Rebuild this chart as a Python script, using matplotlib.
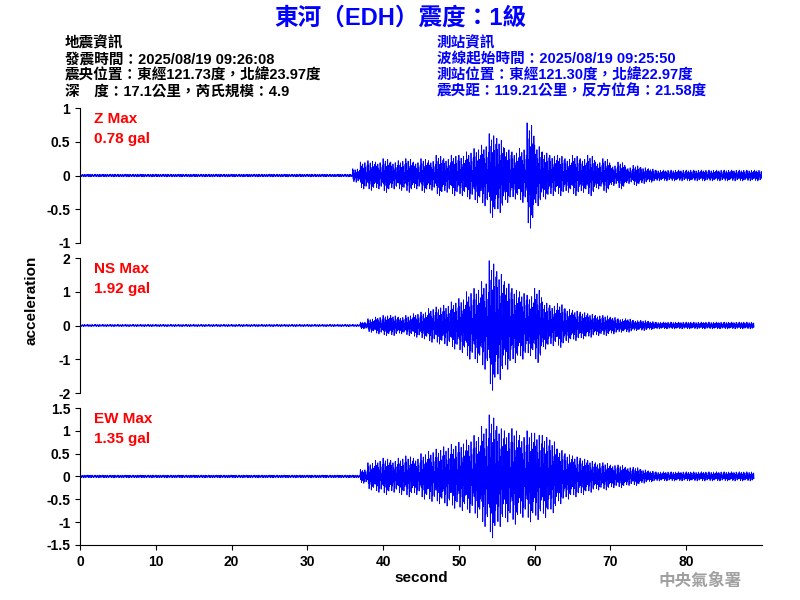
import numpy as np
import matplotlib
matplotlib.use('Agg')
import matplotlib.pyplot as plt

plt.rcParams['font.family'] = ['Liberation Sans', 'Noto Sans CJK TC', 'DejaVu Sans']
plt.rcParams['font.weight'] = 'bold'
plt.rcParams['axes.labelweight'] = 'bold'

BLUE = '#0000ff'
RED = '#ff0000'

# envelope amplitude (gal) per 1-second bin, 0..89 s
Z_ENV = [0.02]*36 + [0.1, 0.2, 0.22, 0.2, 0.25, 0.2, 0.22, 0.25, 0.2, 0.25, 0.22, 0.3, 0.25, 0.3,
         0.3, 0.35, 0.4, 0.45, 0.62, 0.55, 0.4, 0.35, 0.4, 0.78, 0.45, 0.35, 0.3, 0.3, 0.25, 0.3,
         0.25, 0.3, 0.2, 0.25, 0.15, 0.2, 0.12, 0.15, 0.12, 0.1] + [0.08]*14
NS_ENV = [0.03]*37 + [0.1, 0.2, 0.25, 0.3, 0.3, 0.25, 0.3, 0.35, 0.4, 0.5, 0.55, 0.6, 0.7,
          0.8, 1.0, 1.1, 1.3, 1.92, 1.6, 1.3, 1.1, 1.0, 0.9, 1.1, 0.7, 0.6, 0.65, 0.5, 0.45, 0.4,
          0.35, 0.3, 0.3, 0.25, 0.2, 0.2, 0.15, 0.15, 0.12] + [0.1]*13
EW_ENV = [0.03]*37 + [0.15, 0.3, 0.35, 0.4, 0.35, 0.4, 0.45, 0.4, 0.5, 0.55, 0.6, 0.65, 0.7,
          0.75, 0.8, 0.9, 1.1, 1.35, 1.1, 1.0, 1.05, 0.9, 1.0, 0.95, 0.9, 0.8, 0.6, 0.5, 0.45, 0.4,
          0.35, 0.3, 0.3, 0.25, 0.25, 0.2, 0.2, 0.15, 0.12] + [0.1]*13
# fixed oscillation shape within each second
SHAPE = [1.0, -0.5, 0.7, -0.9, 0.3, -0.6, 0.85, -0.35, 0.55, -1.0,
         0.4, -0.75, 0.95, -0.25, 0.6, -0.8, 0.2, -0.55, 0.75, -0.45]

PANELS = [('Z', Z_ENV, '0.78', (-1, 1), [-1, -0.5, 0, 0.5, 1], ['-1', '-0.5', '0', '0.5', '1']),
          ('NS', NS_ENV, '1.92', (-2, 2), [-2, -1, 0, 1, 2], ['-2', '-1', '0', '1', '2']),
          ('EW', EW_ENV, '1.35', (-1.5, 1.5), [-1.5, -1, -0.5, 0, 0.5, 1, 1.5],
           ['-1.5', '-1', '-0.5', '0', '0.5', '1', '1.5'])]

fig = plt.figure(figsize=(8, 6), dpi=100)
fig.patch.set_facecolor('white')

bottoms = [0.595, 0.345, 0.092]
heights = [0.225, 0.225, 0.228]
for i, (name, env, mx, ylim, yt, ytl) in enumerate(PANELS):
    ax = fig.add_axes([0.1, bottoms[i], 0.8525, heights[i]])
    n = len(SHAPE)
    t = np.concatenate([s + np.arange(n) / n for s in range(len(env))])
    y = np.concatenate([np.array(SHAPE) * a for a in env])
    ax.plot(t, y, color=BLUE, lw=0.6)
    ax.set_xlim(0, 90)
    ax.set_ylim(*ylim)
    ax.set_yticks(yt)
    ax.set_yticklabels(ytl, fontsize=10)
    for s in ['top', 'right']:
        ax.spines[s].set_visible(False)
    if i < 2:
        ax.spines['bottom'].set_visible(False)
        ax.set_xticks([])
    else:
        ax.set_xticks(range(0, 90, 10))
        ax.tick_params(axis='x', labelsize=10)
        ax.set_xlabel('second', fontsize=11, labelpad=2)
    ax.text(0.02, 0.97, f'{name} Max\n{mx} gal', transform=ax.transAxes,
            color=RED, fontsize=11, va='top', ha='left', linespacing=1.5)

fig.text(0.04, 0.5, 'acceleration', rotation=90, ha='center', va='center', fontsize=11)

fig.text(0.5, 0.97, '東河（EDH）震度：1級', color=BLUE, fontsize=17,
         ha='center', va='center')
left = ['地震資訊', '發震時間：2025/08/19 09:26:08', '震央位置：東經121.73度，北緯23.97度',
        '深　度：17.1公里，芮氏規模：4.9']
right = ['測站資訊', '波線起始時間：2025/08/19 09:25:50', '測站位置：東經121.30度，北緯22.97度',
         '震央距：119.21公里，反方位角：21.58度']
for k, (a, b) in enumerate(zip(left, right)):
    yy = 0.928 - k * 0.027
    fig.text(0.081, yy, a, fontsize=10.5, color='black', va='center')
    fig.text(0.546, yy, b, fontsize=10.5, color=BLUE, va='center')

fig.text(0.875, 0.032, '中央氣象署', fontsize=12, color='#a0a0a0', ha='center',
         va='center')

fig.savefig('out.png', dpi=100)
